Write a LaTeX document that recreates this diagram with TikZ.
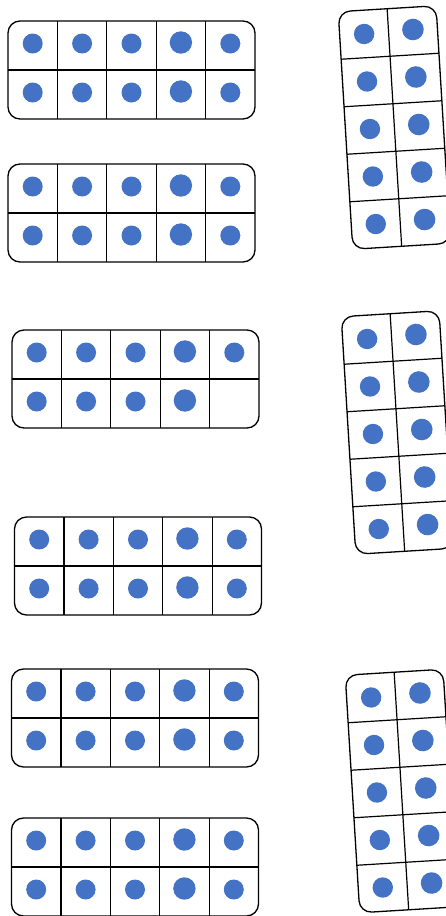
\documentclass[tikz,border=0pt]{standalone}
\definecolor{dotblue}{HTML}{4472C4}
\tikzset{
  framebox/.style={draw=black, line width=1.3pt, rounded corners=12pt, fill=white},
  gridline/.style={draw=black, line width=1.2pt},
  dotfill/.style={fill=dotblue}
}
\newcommand\tenframeH[3]{%
  \begin{scope}[shift={(#1,#2)}]
    \draw[framebox] (-123.5,-49) rectangle (123.5,49);
    \draw[gridline] (-123.5,0) -- (123.5,0);
    \foreach \i in {1,...,4}{\draw[gridline] (-123.5+49.4*\i,-49) -- (-123.5+49.4*\i,49);}
    \foreach \r in {0,1}{\foreach \c in {0,...,4}{%
      \pgfmathtruncatemacro\kk{\r*5+\c+1}%
      \pgfmathsetmacro\rad{\c==3 ? 11.2 : 10}%
      \pgfmathsetmacro\dy{\c==3 ? 3 : 2}%
      \ifnum\kk>#3\relax\else
        \fill[dotfill] (-123.5+49.4*\c+24.7,-49+49*\r+24.5-\dy) circle (\rad);
      \fi}}
  \end{scope}}
\newcommand\tenframeV[3]{%
  \begin{scope}[shift={(#1,#2)}, rotate=#3]
    \draw[framebox] (-49,-119) rectangle (49,119);
    \draw[gridline] (0,-119) -- (0,119);
    \foreach \i in {1,...,4}{\draw[gridline] (-49,-119+47.6*\i) -- (49,-119+47.6*\i);}
    \foreach \r in {0,...,4}{\foreach \c in {0,1}{%
      \pgfmathsetmacro\rad{\c==1 ? 10.8 : 10.2}%
      \fill[dotfill] (-49+49*\c+24.5,-119+47.6*\r+23.8-\c*1.5) circle (\rad);
      }}
  \end{scope}}
\begin{document}
\begin{tikzpicture}[x=1pt,y=-1pt]
  \useasboundingbox (0,0) rectangle (446,916);
  \fill[white] (0,0) rectangle (446,916);
  % left column of horizontal ten-frames
  \tenframeH{131.5}{70}{10}
  \tenframeH{131.5}{213}{10}
  \tenframeH{135.5}{379}{9}
  \tenframeH{138}{566}{10}
  \tenframeH{135}{718}{10}
  \tenframeH{135}{867}{10}
  % right column of tilted ten-frames
  \tenframeV{394.4}{127.5}{3.5}
  \tenframeV{397.4}{432.5}{3.5}
  \tenframeV{401.4}{791}{3.5}
\end{tikzpicture}
\end{document}
